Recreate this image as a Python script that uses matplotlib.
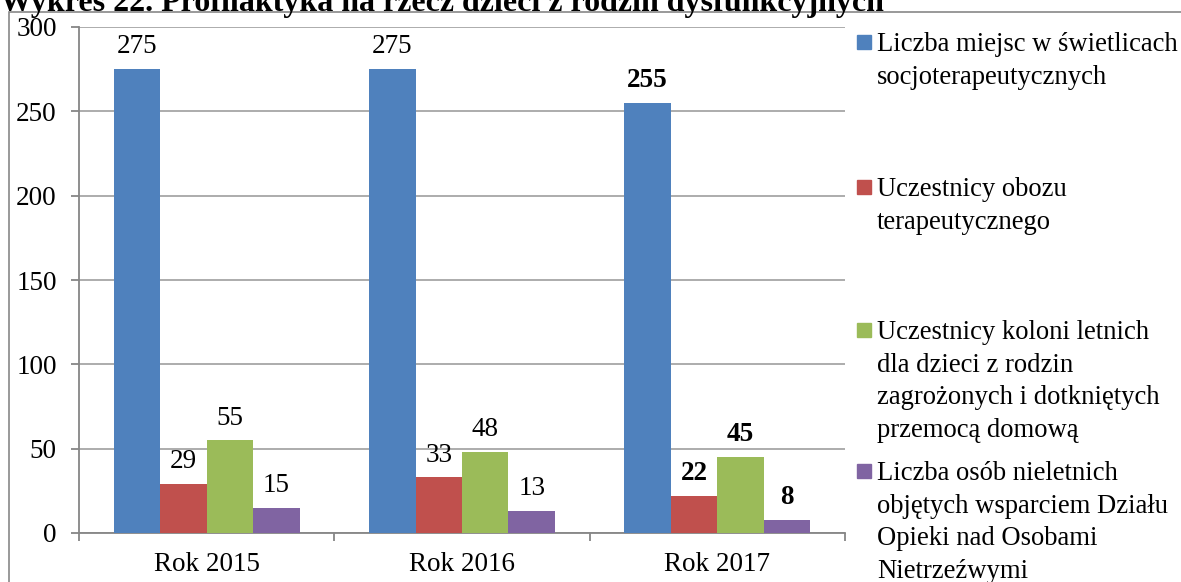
import numpy as np
import matplotlib.pyplot as plt
from matplotlib.patches import Rectangle

plt.rcParams['font.family'] = ['Liberation Serif', 'DejaVu Serif']

years = ['Rok 2015', 'Rok 2016', 'Rok 2017']
series_names = [
    'Liczba miejsc w świetlicach\nsocjoterapeutycznych',
    'Uczestnicy obozu\nterapeutycznego',
    'Uczestnicy koloni letnich\ndla dzieci z rodzin\nzagrożonych i dotkniętych\nprzemocą domową',
    'Liczba osób nieletnich\nobjętych wsparciem Działu\nOpieki nad Osobami\nNietrzeźwymi',
]
swietlice = [275, 275, 255]
oboz = [29, 33, 22]
kolonie = [55, 48, 45]
nieletni = [15, 13, 8]
colors = ['#4F81BD', '#C0504D', '#9BBB59', '#8064A2']

W, H = 1181, 582
fig = plt.figure(figsize=(W / 100, H / 100), dpi=100)
ax = fig.add_axes([79 / W, (H - 533) / H, (845 - 79) / W, (533 - 27) / H])

x = np.arange(len(years))
bw = 0.182
all_series = [swietlice, oboz, kolonie, nieletni]
for i, vals in enumerate(all_series):
    pos = x + (i - 1.5) * bw
    bars = ax.bar(pos, vals, bw, color=colors[i], zorder=3)
    for j, (b, v) in enumerate(zip(bars, vals)):
        ax.annotate(str(v), (b.get_x() + b.get_width() / 2, v),
                    xytext=(0, 7), textcoords='offset points',
                    ha='center', va='bottom', fontsize=19.5,
                    fontweight='bold' if j == 2 else 'normal')

ax.set_ylim(0, 300)
ax.set_xlim(-0.5, 2.5)
ax.set_yticks(range(0, 301, 50))
ax.yaxis.grid(True, color='#A6A6A6', linewidth=1.3, zorder=0)
ax.set_axisbelow(True)
ax.tick_params(axis='y', labelsize=19.5, length=6, width=1.3, color='#868686', pad=10)
ax.set_xticks(x)
ax.set_xticklabels(years)
ax.set_xticks([-0.5, 0.5, 1.5, 2.5], minor=True)
ax.tick_params(axis='x', which='major', labelsize=19.5, length=0, pad=14)
ax.tick_params(axis='x', which='minor', length=6, width=1.3, color='#868686')
for s in ['top', 'right']:
    ax.spines[s].set_visible(False)
for s in ['left', 'bottom']:
    ax.spines[s].set_color('#868686')
    ax.spines[s].set_linewidth(1.3)

# outer chart border
fig.add_artist(Rectangle((9 / W, -0.1), 1.2, 1.1 - 12 / H, transform=fig.transFigure,
                         fill=False, edgecolor='#878787', linewidth=1.2))

fig.text(0 / W, 1 - 11 / H, 'Wykres 22. Profilaktyka na rzecz dzieci z rodzin dysfunkcyjnych',
         fontsize=23, fontweight='bold', ha='left', va='baseline')

# legend
first_line_y = [42, 187, 330, 471]
for i, name in enumerate(series_names):
    yc = first_line_y[i]
    fig.add_artist(Rectangle((857 / W, 1 - (yc + 7) / H), 14 / W, 14 / H,
                             transform=fig.transFigure, color=colors[i]))
    fig.text(877 / W, 1 - (yc - 10) / H, name, fontsize=19.2, ha='left', va='top',
             linespacing=1.4)

fig.savefig('out.png', dpi=100)
